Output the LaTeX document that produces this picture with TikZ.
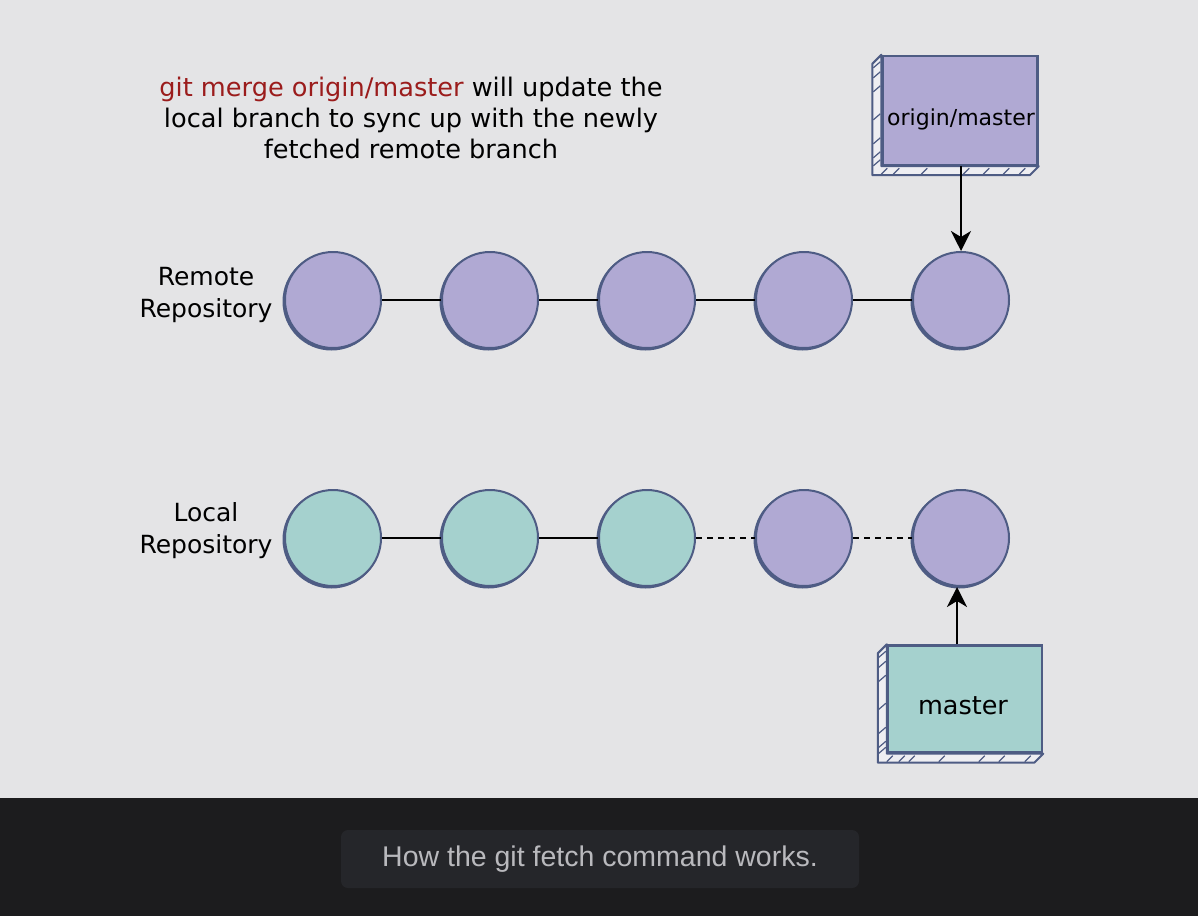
\documentclass[tikz,border=0pt]{standalone}
\usepackage{fontspec}
\setmainfont{DejaVu Sans}
\newfontfamily\capfont{Liberation Sans}
\usetikzlibrary{arrows.meta}
\definecolor{bgc}{HTML}{E4E4E6}
\definecolor{darkbg}{HTML}{1C1C1E}
\definecolor{capfill}{HTML}{25262A}
\definecolor{captext}{HTML}{B9B9BD}
\definecolor{purp}{HTML}{B0A9D3}
\definecolor{teal}{HTML}{A5D1CE}
\definecolor{edge}{HTML}{4E5C84}
\definecolor{gitred}{HTML}{9B1C1C}
\definecolor{sidefill}{HTML}{EEEEF2}
\tikzset{
  commit/.style={circle, minimum size=96pt, inner sep=0pt, draw=edge, line width=2pt},
  conn/.style={draw=black, line width=2pt},
  dashconn/.style={conn, dash pattern=on 6pt off 5pt},
  arr/.style={draw=black, line width=2pt, -{Stealth[length=20pt,width=20pt,inset=6pt]}},
  lbl/.style={align=center, font=\fontsize{25}{32}\selectfont, inner sep=0pt},
  branch/.style={draw=edge, line width=2.4pt, inner sep=0pt},
  sideface/.style={fill=sidefill, draw=edge, line width=2pt, line join=round},
  hatch/.style={draw=edge, line width=1.2pt},
  btext/.style={inner sep=0pt},
}
\begin{document}
\begin{tikzpicture}[x=1pt,y=-1pt]
\useasboundingbox (0,0) rectangle (1198,916);
\fill[bgc] (0,0) rectangle (1198,798);
\fill[darkbg] (0,798) rectangle (1198,916);
\node[fill=capfill, rounded corners=7pt, minimum width=518pt, minimum height=58pt, inner sep=0pt] (cap) at (600,859) {};
\node[text=captext, font=\capfont\fontsize{28.5}{32}\selectfont, inner sep=0pt] (captxt) at (600,859) {How the git fetch command works.};

% note
\node[lbl, font=\fontsize{25.6}{31}\selectfont] (note) at (411,118)
  {\textcolor{gitred}{git merge origin/master} will update the\\local branch to sync up with the newly\\fetched remote branch};

% row labels
\node[lbl] (rlab) at (206,295) {Remote\\Repository};
\node[lbl] (llab) at (206,531) {Local\\Repository};

% remote commits
\foreach \x/\n in {333/r1,490/r2,647/r3,804/r4,961/r5}{
  \fill[edge] (\x-1.5,301.5) circle (49pt);
  \node[commit, fill=purp] (\n) at (\x,300) {};
}
% local commits
\foreach \x/\n/\c in {333/l1/teal,490/l2/teal,647/l3/teal,804/l4/purp,961/l5/purp}{
  \fill[edge] (\x-1.5,539.5) circle (49pt);
  \node[commit, fill=\c] (\n) at (\x,538) {};
}

\draw[conn] (r1) -- (r2);
\draw[conn] (r2) -- (r3);
\draw[conn] (r3) -- (r4);
\draw[conn] (r4) -- (r5);
\draw[conn] (l1) -- (l2);
\draw[conn] (l2) -- (l3);
\draw[dashconn] (l3) -- (l4);
\draw[dashconn] (l4) -- (l5);

% origin/master box
\node[branch, fill=purp, minimum width=155pt, minimum height=109pt] (om) at (960,110.5) {};
\draw[sideface] (om.north west) -- ++(-9,9) -- ([shift={(-9,9)}]om.south west)
  -- ([shift={(-9,9)}]om.south east) -- (om.south east) -- (om.south west) -- cycle;
\foreach \t in {6,16,30,58,82,96,104}{
  \draw[hatch] ([shift={(-8,\t+7)}]om.north west) -- ++(7,-6);
}
\foreach \t in {8,20,48,90,110,130,146}{
  \draw[hatch] ([shift={(\t-8,8)}]om.south west) -- ++(6,-6);
}
\node[btext, font=\fontsize{22}{26}\selectfont] (omtxt) at (961,119) {origin/master};

% master box
\node[branch, fill=teal, minimum width=154pt, minimum height=107pt] (m) at (965,699) {};
\draw[sideface] (m.north west) -- ++(-9,9) -- ([shift={(-9,9)}]m.south west)
  -- ([shift={(-9,9)}]m.south east) -- (m.south east) -- (m.south west) -- cycle;
\foreach \t in {6,16,30,58,82,96,102}{
  \draw[hatch] ([shift={(-8,\t+7)}]m.north west) -- ++(7,-6);
}
\foreach \t in {8,20,30,60,100,120,146}{
  \draw[hatch] ([shift={(\t-8,8)}]m.south west) -- ++(6,-6);
}
\node[btext, font=\fontsize{25.5}{28}\selectfont] (mtxt) at (963,706) {master};

% arrows
\draw[arr] ([xshift=1pt]om.south) -- ([xshift=1pt]om.south |- r5.north);
\draw[arr] ([xshift=-8pt]m.north) -- ([xshift=-8pt]m.north |- l5.south);
\end{tikzpicture}
\end{document}
